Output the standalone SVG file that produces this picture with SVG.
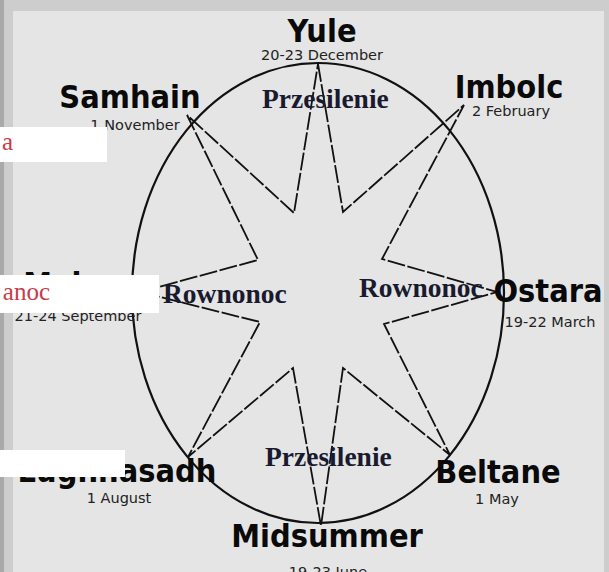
<svg xmlns="http://www.w3.org/2000/svg" width="609" height="572" viewBox="0 0 609 572">
<style>
.big{font-family:"DejaVu Sans","Liberation Sans",sans-serif;font-weight:bold;font-size:29px;fill:#0a0a0a;text-anchor:middle}
.date{font-family:"DejaVu Sans","Liberation Sans",sans-serif;font-size:14.5px;fill:#222;text-anchor:middle}
.pl{font-family:"Liberation Serif","Times New Roman",serif;font-weight:bold;font-size:27.5px;fill:#1a1a2e}
.red{font-family:"Liberation Serif","Times New Roman",serif;font-size:25px;fill:#c83a4a;text-anchor:end}
.box{fill:#ffffff}
</style>
<rect x="0" y="0" width="609" height="572" fill="#cdcdcd"/>
<rect x="0" y="0" width="4" height="572" fill="#a9a9a9"/>
<rect x="13" y="11" width="591" height="561" fill="#e5e5e5"/>
<g id="connectors" fill="none" stroke="#111">
<ellipse cx="318" cy="293" rx="186" ry="230" stroke-width="2.2"/>
<polygon stroke-width="1.8" stroke-dasharray="18 2.5" stroke-linejoin="miter" points="318,64 343,212 464,105 382,259 497,292 384,324 450,455 343,368 321,526 293,368 188,457 260,322 140,292 258,260 187,115 294,213"/>
</g>
<g id="yule"><text class="big" transform="translate(322,42) scale(1,1.12)">Yule</text><text class="date" x="322" y="60">20-23 December</text></g>
<g id="samhain"><text class="big" transform="translate(130,108) scale(1,1.12)">Samhain</text><text class="date" x="135" y="130">1 November</text></g>
<g id="imbolc"><text class="big" transform="translate(509,98) scale(1,1.12)">Imbolc</text><text class="date" x="511" y="116">2 February</text></g>
<g id="mabon"><text class="big" transform="translate(78,295) scale(1,1.12)">Mabon</text><text class="date" x="78" y="321">21-24 September</text></g>
<g id="ostara"><text class="big" transform="translate(548,302) scale(1,1.12)">Ostara</text><text class="date" x="550" y="327">19-22 March</text></g>
<g id="lughnasadh"><text class="big" transform="translate(117,482) scale(1,1.12)">Lughnasadh</text><text class="date" x="119" y="503">1 August</text></g>
<g id="beltane"><text class="big" transform="translate(498,483) scale(1,1.12)">Beltane</text><text class="date" x="497" y="504">1 May</text></g>
<g id="midsummer"><text class="big" transform="translate(327,547) scale(1,1.12)">Midsummer</text><text class="date" x="328" y="577">19-23 June</text></g>
<g id="przesilenie-top"><text class="pl" x="262" y="108">Przesilenie</text></g>
<g id="przesilenie-bottom"><text class="pl" x="265" y="466">Przesilenie</text></g>
<g id="rownonoc-left"><text class="pl" x="163" y="303">Rownonoc</text></g>
<g id="rownonoc-right"><text class="pl" x="359" y="297">Rownonoc</text></g>
<g id="overlay1"><rect class="box" x="0" y="127" width="107" height="35"/><text class="red" x="13" y="150">a</text></g>
<g id="overlay2"><rect class="box" x="0" y="275" width="159" height="38"/><text class="red" x="50" y="300">anoc</text></g>
<g id="overlay3"><rect class="box" x="0" y="450" width="125" height="27"/></g>
</svg>
